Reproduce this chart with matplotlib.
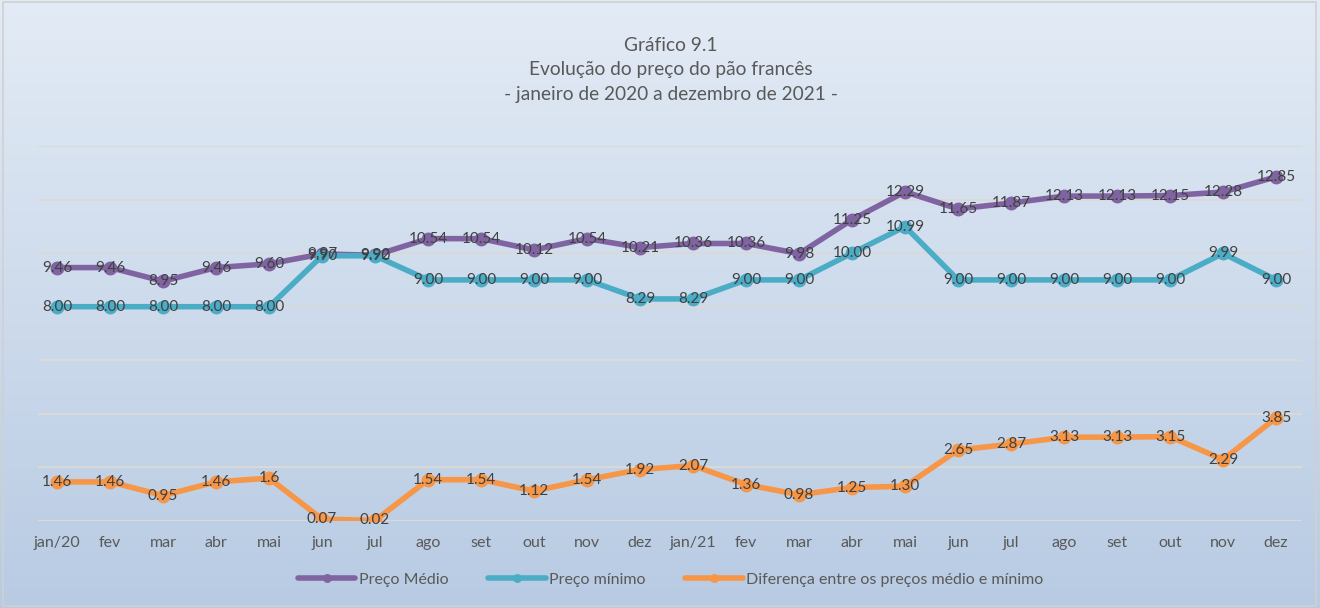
import numpy as np
import matplotlib
matplotlib.use("Agg")
import matplotlib.pyplot as plt

plt.rcParams['font.family'] = ['Lato', 'DejaVu Sans']

meses = ["jan/20", "fev", "mar", "abr", "mai", "jun", "jul", "ago", "set", "out", "nov", "dez",
         "jan/21", "fev", "mar", "abr", "mai", "jun", "jul", "ago", "set", "out", "nov", "dez"]

preco_medio = [9.46, 9.46, 8.95, 9.46, 9.60, 9.97, 9.92, 10.54, 10.54, 10.12, 10.54, 10.21,
               10.36, 10.36, 9.98, 11.25, 12.29, 11.65, 11.87, 12.13, 12.13, 12.15, 12.28, 12.85]
preco_minimo = [8.00, 8.00, 8.00, 8.00, 8.00, 9.90, 9.90, 9.00, 9.00, 9.00, 9.00, 8.29,
                8.29, 9.00, 9.00, 10.00, 10.99, 9.00, 9.00, 9.00, 9.00, 9.00, 9.99, 9.00]
diferenca = [1.46, 1.46, 0.95, 1.46, 1.6, 0.07, 0.02, 1.54, 1.54, 1.12, 1.54, 1.92,
             2.07, 1.36, 0.98, 1.25, 1.30, 2.65, 2.87, 3.13, 3.13, 3.15, 2.29, 3.85]
rotulos_diferenca = ["1.46", "1.46", "0.95", "1.46", "1.6", "0.07", "0.02", "1.54", "1.54", "1.12",
                     "1.54", "1.92", "2.07", "1.36", "0.98", "1.25", "1.30", "2.65", "2.87", "3.13",
                     "3.13", "3.15", "2.29", "3.85"]

fig = plt.figure(figsize=(13.2, 6.08), dpi=100)

# fundo em degradê
bg = fig.add_axes([0, 0, 1, 1], zorder=-10)
top = np.array([0.890, 0.922, 0.962])
bottom = np.array([0.722, 0.796, 0.890])
t = np.linspace(0, 1, 256)[:, None]
grad = top[None, :] * (1 - t) + bottom[None, :] * t
bg.imshow(grad[:, None, :], aspect='auto', extent=[0, 1, 0, 1])
bg.set_xlim(0, 1)
bg.set_ylim(0, 1)
bg.axis('off')
bg.add_patch(plt.Rectangle((0.002, 0.003), 0.995, 0.993, fill=False, edgecolor='#d0d0d0', lw=1.2))

ax = fig.add_axes([0.0288, 0.1431, 0.9576, 0.6168])
ax.set_facecolor('none')
x = np.arange(len(meses))

series = [
    (preco_medio, '#8064a2', 'Preço Médio', [f"{v:.2f}" for v in preco_medio]),
    (preco_minimo, '#4bacc6', 'Preço mínimo', [f"{v:.2f}" for v in preco_minimo]),
    (diferenca, '#f79646', 'Diferença entre os preços médio e mínimo', rotulos_diferenca),
]

for vals, cor, nome, rotulos in series:
    ax.plot(x, vals, color=cor, lw=4, marker='o', markersize=9, label=nome, zorder=3,
            solid_capstyle='round')
    for xi, v, r in zip(x, vals, rotulos):
        ax.text(xi, v, r, ha='center', va='center', fontsize=11, color='#404040', zorder=4)

ax.set_xlim(-0.36, 23.49)
ax.set_ylim(0, 14)
ax.set_yticks(np.arange(0, 15, 2))
ax.yaxis.grid(True, color='#d9d9d9', lw=1.5)
ax.set_axisbelow(True)
ax.tick_params(axis='y', left=False, labelleft=False)
ax.tick_params(axis='x', length=0, pad=11, labelsize=11.5, labelcolor='#595959')
ax.set_xticks(x)
ax.set_xticklabels(meses)
for s in ax.spines.values():
    s.set_visible(False)

fig.text(0.508, 0.885, "Gráfico 9.1\nEvolução do preço do pão francês\n- janeiro de 2020 a dezembro de 2021 -",
         ha='center', va='center', fontsize=13.8, color='#595959', linespacing=1.55)

leg = fig.legend(loc='center', bbox_to_anchor=(0.508, 0.047), ncol=3, frameon=False,
                 fontsize=11.5, labelcolor='#595959', handlelength=3.6, handletextpad=0.2,
                 columnspacing=2.5, markerscale=0.6)

fig.savefig("out.png", dpi=100)
